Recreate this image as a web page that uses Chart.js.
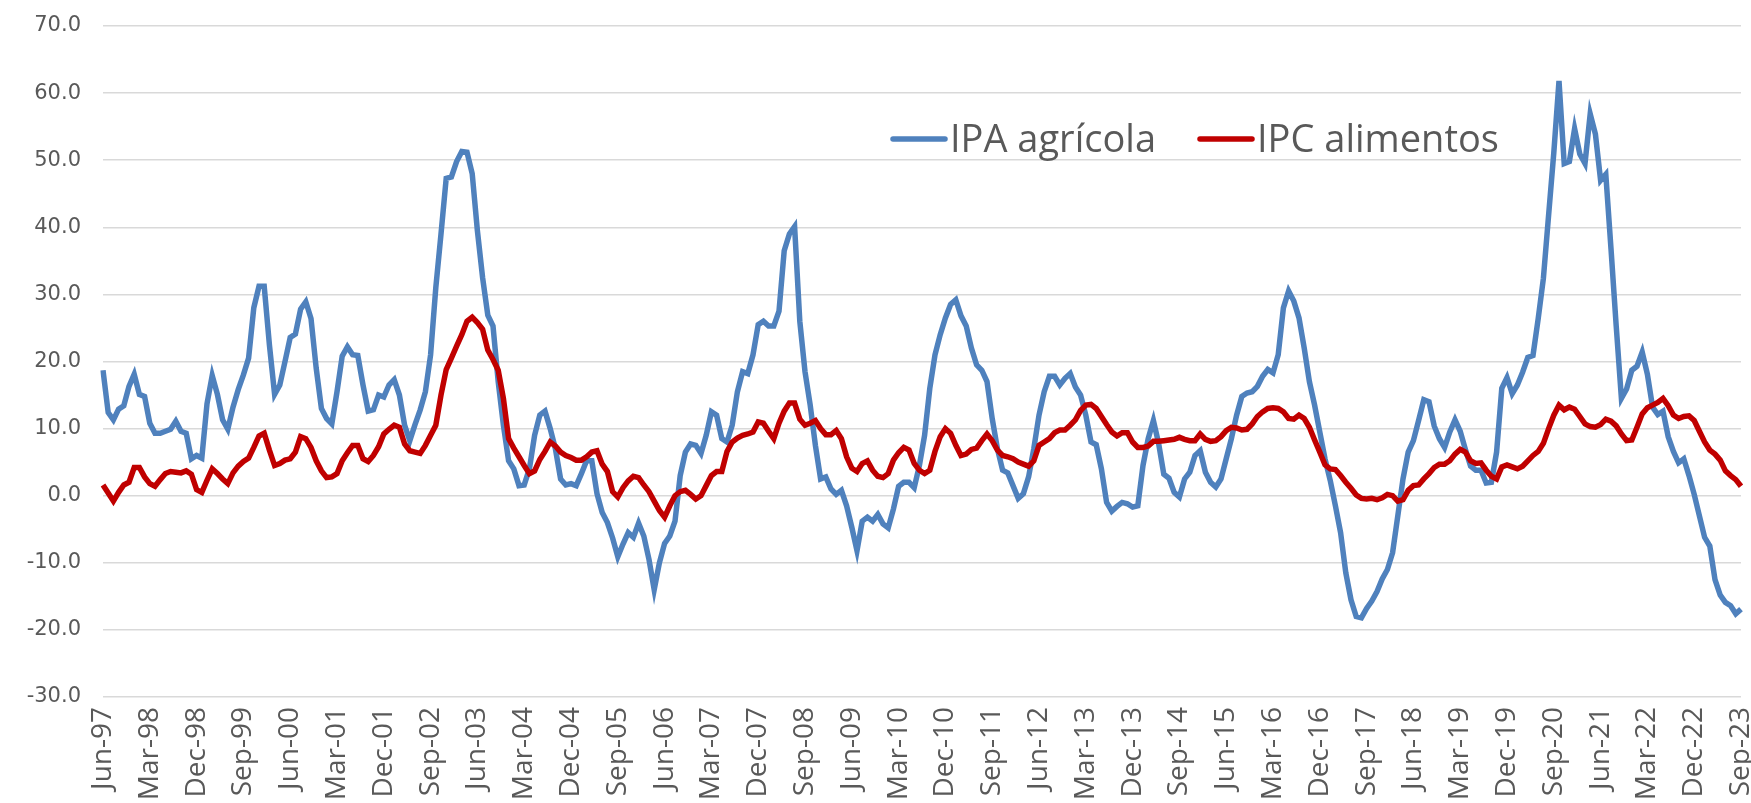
<!DOCTYPE html>
<html>
<head>
<meta charset="utf-8">
<script src="https://cdn.jsdelivr.net/npm/chart.js@4.4.1/dist/chart.umd.min.js"></script>
<style>
  body { margin: 0; background: #fff; }
  #caixa { width: 1751px; height: 803px; }
</style>
</head>
<body>
<div id="caixa"><canvas id="grafico"></canvas></div>
<script>
// Variacao em 12 meses (%), mensal de Jun-97 a Sep-23
const nomesMeses = ['Jan', 'Feb', 'Mar', 'Apr', 'May', 'Jun', 'Jul', 'Aug', 'Sep', 'Oct', 'Nov', 'Dec'];
const mesInicial = 5;   // Jun
const anoInicial = 1997;
const totalMeses = 316;

const ipaAgricola = [
    18.7, 12.4, 11.3, 12.9, 13.4, 16.3, 18.1, 15.1, 14.8, 10.8,
    9.3, 9.3, 9.6, 9.9, 11.1, 9.6, 9.3, 5.5, 6.0, 5.6,
    13.7, 17.9, 15.1, 11.3, 9.9, 13.2, 15.8, 18.0, 20.5, 28.0,
    31.2, 31.2, 22.5, 15.1, 16.5, 20.0, 23.6, 24.1, 27.8, 28.9,
    26.4, 19.0, 13.0, 11.5, 10.7, 15.5, 20.8, 22.2, 21.0, 20.9,
    16.5, 12.6, 12.8, 15.0, 14.7, 16.5, 17.3, 15.0, 10.5, 8.2,
    10.6, 12.8, 15.5, 21.0, 31.0, 39.0, 47.3, 47.5, 49.8, 51.3,
    51.2, 48.0, 39.5, 32.5, 26.9, 25.3, 17.0, 10.5, 5.2, 4.0,
    1.5, 1.6, 4.0, 9.0, 12.0, 12.6, 10.0, 7.0, 2.5, 1.6,
    1.8, 1.5, 3.3, 5.2, 5.2, 0.3, -2.5, -4.0, -6.3, -9.1,
    -7.2, -5.5, -6.2, -4.1, -6.0, -9.5, -14.0, -10.0, -7.1, -6.0,
    -3.8, 3.0, 6.5, 7.7, 7.5, 6.3, 9.0, 12.5, 12.0, 8.5,
    8.0, 10.5, 15.5, 18.5, 18.2, 21.0, 25.5, 26.0, 25.3, 25.3,
    27.5, 36.5, 39.0, 40.1, 26.0, 18.5, 13.5, 7.5, 2.5, 2.8,
    1.0, 0.2, 0.8, -1.5, -4.7, -8.2, -3.8, -3.2, -3.8, -2.8,
    -4.2, -4.8, -2.0, 1.4, 2.0, 2.0, 1.2, 4.5, 9.0, 16.0,
    21.0, 24.0, 26.5, 28.5, 29.2, 26.8, 25.3, 22.0, 19.5, 18.7,
    17.0, 11.5, 7.0, 3.8, 3.4, 1.5, -0.4, 0.3, 2.8, 7.0,
    12.0, 15.5, 17.8, 17.8, 16.5, 17.5, 18.2, 16.2, 15.0, 12.0,
    8.0, 7.6, 4.0, -1.0, -2.3, -1.6, -1.0, -1.2, -1.7, -1.5,
    4.5, 8.5, 11.2, 7.8, 3.2, 2.6, 0.5, -0.2, 2.5, 3.5,
    6.0, 6.7, 3.5, 2.0, 1.3, 2.5, 5.5, 8.5, 12.0, 14.8,
    15.3, 15.5, 16.3, 17.8, 18.8, 18.3, 21.0, 28.0, 30.5, 29.0,
    26.5, 22.0, 17.0, 13.5, 9.5, 5.5, 2.3, -1.5, -5.5, -11.5,
    -15.5, -18.0, -18.2, -16.8, -15.7, -14.3, -12.4, -11.0, -8.5, -3.0,
    2.5, 6.5, 8.2, 11.2, 14.3, 14.0, 10.4, 8.5, 7.2, 9.5,
    11.3, 9.6, 6.9, 4.4, 3.8, 3.8, 1.9, 2.0, 6.5, 16.0,
    17.6, 15.2, 16.5, 18.4, 20.6, 20.9, 26.4, 32.4, 41.8, 51.1,
    61.8, 49.5, 49.8, 54.7, 50.9, 49.5, 56.9, 53.9, 47.0, 47.9,
    36.8, 25.3, 14.5, 15.9, 18.7, 19.3, 21.4, 18.1, 13.2, 12.1,
    12.6, 8.8, 6.6, 4.9, 5.5, 3.0, 0.2, -3.0, -6.2, -7.5,
    -12.5, -14.8, -15.9, -16.4, -17.6, -16.9
];

const ipcAlimentos = [
    1.6, 0.4, -0.8, 0.5, 1.6, 2.0, 4.2, 4.2, 2.8, 1.8,
    1.4, 2.4, 3.3, 3.6, 3.5, 3.4, 3.7, 3.2, 0.9, 0.5,
    2.3, 4.0, 3.3, 2.5, 1.8, 3.4, 4.4, 5.1, 5.6, 7.2,
    8.9, 9.3, 6.8, 4.5, 4.8, 5.3, 5.5, 6.5, 8.8, 8.5,
    7.2, 5.2, 3.7, 2.7, 2.8, 3.3, 5.2, 6.4, 7.5, 7.5,
    5.5, 5.1, 6.0, 7.3, 9.2, 9.9, 10.5, 10.2, 7.7, 6.7,
    6.5, 6.3, 7.5, 9.0, 10.5, 15.0, 18.8, 20.5, 22.3, 24.0,
    26.0, 26.6, 25.8, 24.8, 21.7, 20.3, 18.7, 14.5, 8.5, 7.1,
    5.8, 4.5, 3.3, 3.7, 5.4, 6.6, 8.0, 7.4, 6.5, 6.0,
    5.7, 5.3, 5.3, 5.8, 6.5, 6.7, 4.7, 3.6, 0.6, -0.2,
    1.2, 2.2, 2.9, 2.7, 1.6, 0.6, -0.8, -2.2, -3.2, -1.5,
    0.0, 0.6, 0.8, 0.2, -0.5, 0.0, 1.5, 3.0, 3.6, 3.6,
    6.6, 8.0, 8.6, 9.0, 9.2, 9.5, 11.0, 10.8, 9.6, 8.5,
    10.8, 12.6, 13.8, 13.8, 11.4, 10.5, 10.8, 11.2, 10.0, 9.1,
    9.1, 9.7, 8.5, 5.8, 4.1, 3.6, 4.8, 5.2, 3.8, 2.9,
    2.7, 3.3, 5.3, 6.4, 7.2, 6.8, 4.8, 3.8, 3.3, 3.8,
    6.6, 8.8, 10.0, 9.3, 7.5, 6.0, 6.2, 6.9, 7.1, 8.2,
    9.2, 8.2, 6.8, 6.0, 5.8, 5.5, 5.0, 4.7, 4.4, 5.2,
    7.5, 8.0, 8.5, 9.4, 9.8, 9.8, 10.5, 11.3, 12.7, 13.5,
    13.6, 13.0, 11.8, 10.6, 9.5, 8.9, 9.4, 9.4, 8.0, 7.2,
    7.2, 7.4, 8.1, 8.1, 8.2, 8.3, 8.4, 8.7, 8.4, 8.2,
    8.2, 9.2, 8.4, 8.1, 8.2, 8.8, 9.7, 10.2, 10.1, 9.8,
    9.9, 10.7, 11.8, 12.5, 13.0, 13.1, 13.0, 12.5, 11.5, 11.4,
    12.0, 11.5, 10.2, 8.3, 6.5, 4.6, 4.0, 3.9, 3.0, 2.0,
    1.1, 0.1, -0.4, -0.5, -0.4, -0.6, -0.3, 0.2, 0.0, -0.8,
    -0.6, 0.8, 1.5, 1.6, 2.5, 3.3, 4.2, 4.7, 4.7, 5.2,
    6.2, 6.9, 6.5, 5.2, 4.8, 4.9, 3.8, 2.9, 2.5, 4.3,
    4.6, 4.3, 4.0, 4.4, 5.2, 6.0, 6.6, 7.8, 10.0, 12.0,
    13.5, 12.8, 13.2, 12.9, 11.8, 10.7, 10.3, 10.2, 10.6, 11.4,
    11.1, 10.4, 9.2, 8.2, 8.3, 10.2, 12.2, 13.1, 13.5, 13.9,
    14.5, 13.4, 12.0, 11.5, 11.8, 11.9, 11.2, 9.6, 8.0, 6.8,
    6.2, 5.3, 3.7, 3.0, 2.4, 1.4
];

// rotulos tipo "Jun-97"
let rotulos = [];
for (let i = 0; i < totalMeses; i++) {
    let m = (mesInicial + i) % 12;
    let a = anoInicial + Math.floor((mesInicial + i) / 12);
    rotulos.push(nomesMeses[m] + '-' + String(a % 100).padStart(2, '0'));
}

const corTexto = '#595959';

// legenda desenhada dentro da area do grafico
const legendaInterna = {
    id: 'legendaInterna',
    afterDraw(chart) {
        let ctx = chart.ctx;
        let y = 139;
        let posicoes = [893, 1200];
        ctx.save();
        ctx.font = '38px "Open Sans"';
        ctx.textBaseline = 'middle';
        chart.data.datasets.forEach((ds, k) => {
            let x = posicoes[k];
            ctx.strokeStyle = ds.borderColor;
            ctx.lineWidth = 5.5;
            ctx.lineCap = 'round';
            ctx.beginPath();
            ctx.moveTo(x, y);
            ctx.lineTo(x + 52, y);
            ctx.stroke();
            ctx.fillStyle = corTexto;
            ctx.fillText(ds.label, x + 57, y + 2);
        });
        ctx.restore();
    }
};

const data = {
    labels: rotulos,
    datasets: [{
            label: 'IPA agrícola',
            data: ipaAgricola,
            borderColor: '#4F81BD',
            backgroundColor: '#4F81BD',
            borderWidth: 5.5,
            pointRadius: 0,
            tension: 0,
            order: 2
        }, {
            label: 'IPC alimentos',
            data: ipcAlimentos,
            borderColor: '#C00000',
            backgroundColor: '#C00000',
            borderWidth: 5.5,
            pointRadius: 0,
            tension: 0,
            order: 1
        }]
};

const config = {
    type: 'line',
    data: data,
    plugins: [legendaInterna],
    options: {
        responsive: true,
        maintainAspectRatio: false,
        animation: false,
        layout: {padding: {top: 26, right: 10, left: 0, bottom: 0}},
        plugins: {
            legend: {display: false},
            tooltip: {enabled: false}
        },
        scales: {
            x: {
                grid: {display: false},
                border: {display: false},
                ticks: {
                    autoSkip: false,
                    maxRotation: 90,
                    minRotation: 90,
                    padding: 2,
                    color: corTexto,
                    font: {family: 'Open Sans', size: 28},
                    callback: function (val, idx) {
                        return idx % 9 === 0 ? this.getLabelForValue(val) : null;
                    }
                },
                afterFit: (scale) => {
                    scale.height = 106;
                    scale.paddingLeft = 0;
                    scale.paddingRight = 0;
                }
            },
            y: {
                min: -30,
                max: 70,
                grid: {color: '#d9d9d9', lineWidth: 1.5, drawTicks: false},
                border: {display: false},
                ticks: {
                    stepSize: 10,
                    padding: 22,
                    color: corTexto,
                    font: {family: 'DejaVu Sans', size: 21},
                    callback: (v) => v.toFixed(1)
                },
                afterFit: (scale) => {
                    scale.width = 103;
                    scale.paddingTop = 0;
                    scale.paddingBottom = 0;
                }
            }
        }
    }
};

let ctx = document.getElementById('grafico').getContext('2d');
new Chart(ctx, config);
</script>
</body>
</html>
